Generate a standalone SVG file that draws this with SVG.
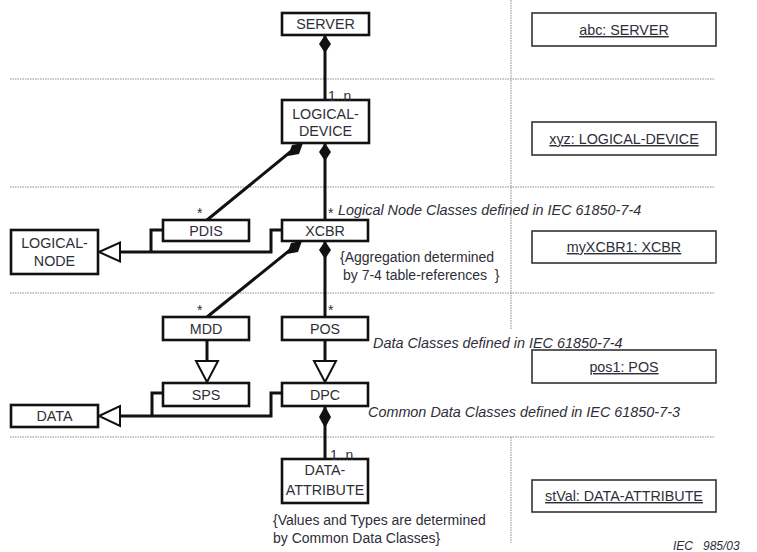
<svg xmlns="http://www.w3.org/2000/svg" width="757" height="552" viewBox="0 0 757 552">
<style>
.bg{fill:#fff}
.dot{stroke:#8a8a8a;stroke-width:1;stroke-dasharray:1.5 1;fill:none}
.box{fill:#fff;stroke:#111;stroke-width:2.6}
.obox{fill:#fff;stroke:#333;stroke-width:1.6}
.t{font-family:"Liberation Sans",Arial,sans-serif;font-size:14.3px;fill:#2e2e38;text-anchor:middle}
.u{text-decoration:underline}
.it{font-family:"Liberation Sans",Arial,sans-serif;font-size:14.4px;font-style:italic;fill:#2e2e38}
.n{font-family:"Liberation Sans",Arial,sans-serif;font-size:14px;fill:#2e2e38}
.ln{stroke:#111;stroke-width:3;fill:none}
.dia{fill:#111;stroke:none}
.tri{fill:#fff;stroke:#111;stroke-width:2}
</style>
<rect class="bg" x="0" y="0" width="757" height="552"/>
<g id="grid">
<line class="dot" x1="10" y1="79" x2="715" y2="79"/>
<line class="dot" x1="10" y1="187" x2="715" y2="187"/>
<line class="dot" x1="10" y1="293" x2="715" y2="293"/>
<line class="dot" x1="10" y1="437" x2="715" y2="437"/>
<line class="dot" x1="511" y1="0" x2="511" y2="330"/>
<line class="dot" x1="511" y1="437" x2="511" y2="543"/>
<line class="dot" x1="540" y1="362" x2="540" y2="381"/>
</g>
<g id="connectors">
<line class="ln" x1="325" y1="35" x2="325" y2="100"/>
<polygon class="dia" points="325,35 331,44 325,53 319,44"/>
<line class="ln" x1="325" y1="143" x2="325" y2="220"/>
<polygon class="dia" points="325,143 331,152 325,161 319,152"/>
<line class="ln" x1="300" y1="144" x2="207" y2="220"/>
<polygon class="dia" points="303,143 299,154 288,156 292,145"/>
<line class="ln" x1="325" y1="241" x2="325" y2="317"/>
<polygon class="dia" points="325,241 331,250 325,259 319,250"/>
<line class="ln" x1="300" y1="242" x2="207" y2="317"/>
<polygon class="dia" points="302,241 298,252 287,254 291,243"/>
<path class="ln" d="M120,252 H271 V230 H282 M151,252 V230 H163" stroke-width="2.6"/>
<polygon class="tri" points="99,252 120,242.5 120,261.5"/>
<line class="ln" x1="207" y1="340" x2="207" y2="361"/>
<polygon class="tri" points="196,361 218,361 207,382"/>
<line class="ln" x1="325" y1="340" x2="325" y2="361"/>
<polygon class="tri" points="314,361 336,361 325,382"/>
<path class="ln" d="M120,416 H271 V393 H282 M152,416 V393 H163" stroke-width="2.6"/>
<polygon class="tri" points="99,416 120,406 120,426"/>
<line class="ln" x1="325" y1="406" x2="325" y2="459"/>
<polygon class="dia" points="325,406 331,417 325,428 319,417"/>
</g>
<g id="server"><rect class="box" x="282" y="13" width="87" height="22"/><text class="t" x="325.5" y="29">SERVER</text></g>
<g id="logical-device"><rect class="box" x="282" y="100" width="87" height="43"/><text class="t" x="325.5" y="119">LOGICAL-</text><text class="t" x="325.5" y="136">DEVICE</text></g>
<g id="pdis"><rect class="box" x="163" y="220" width="86" height="21"/><text class="t" x="206" y="236">PDIS</text></g>
<g id="xcbr"><rect class="box" x="282" y="220" width="86" height="21"/><text class="t" x="325" y="236">XCBR</text></g>
<g id="logical-node"><rect class="box" x="11" y="230" width="87" height="44"/><text class="t" x="54.5" y="248">LOGICAL-</text><text class="t" x="54.5" y="266">NODE</text></g>
<g id="mdd"><rect class="box" x="163" y="317" width="86" height="23"/><text class="t" x="206" y="334">MDD</text></g>
<g id="pos"><rect class="box" x="282" y="317" width="86" height="23"/><text class="t" x="325" y="334">POS</text></g>
<g id="sps"><rect class="box" x="163" y="383" width="86" height="23"/><text class="t" x="206" y="400">SPS</text></g>
<g id="dpc"><rect class="box" x="282" y="383" width="86" height="23"/><text class="t" x="325" y="400">DPC</text></g>
<g id="data"><rect class="box" x="11" y="405" width="87" height="22"/><text class="t" x="54.5" y="421">DATA</text></g>
<g id="data-attribute"><rect class="box" x="282" y="459" width="86" height="44"/><text class="t" x="325" y="475">DATA-</text><text class="t" x="325" y="495">ATTRIBUTE</text></g>
<g id="abc-server"><rect class="obox" x="532" y="13" width="184" height="33"/><text class="t u" x="624" y="35">abc: SERVER</text></g>
<g id="xyz-ld"><rect class="obox" x="532" y="122" width="184" height="33"/><text class="t u" x="624" y="144">xyz: LOGICAL-DEVICE</text></g>
<g id="myxcbr1"><rect class="obox" x="532" y="231" width="184" height="32"/><text class="t u" x="624" y="252">myXCBR1: XCBR</text></g>
<g id="pos1"><rect class="obox" x="532" y="350" width="184" height="33"/><text class="t u" x="624" y="372">pos1: POS</text></g>
<g id="stval"><rect class="obox" x="532" y="480" width="184" height="32"/><text class="t u" x="624" y="501">stVal: DATA-ATTRIBUTE</text></g>
<g id="labels">
<text class="n" x="328" y="101">1..n</text>
<text class="n" x="197" y="218">*</text>
<text class="n" x="328" y="218">*</text>
<text class="it" x="338" y="215">Logical Node Classes defined in IEC 61850-7-4</text>
<text class="n" x="340" y="262">{Aggregation determined</text>
<text class="n" x="343" y="280" xml:space="preserve">by 7-4 table-references  }</text>
<text class="n" x="197" y="315">*</text>
<text class="n" x="328" y="315">*</text>
<text class="it" x="373" y="348">Data Classes defined in IEC 61850-7-4</text>
<text class="it" x="368" y="417">Common Data Classes defined in IEC 61850-7-3</text>
<text class="n" x="330" y="460">1..n</text>
<text class="n" x="273" y="525">{Values and Types are determined</text>
<text class="n" x="273" y="543">by Common Data Classes}</text>
<text class="it" x="673" y="550" style="font-size:12px" xml:space="preserve">IEC   985/03</text>
</g>
</svg>
